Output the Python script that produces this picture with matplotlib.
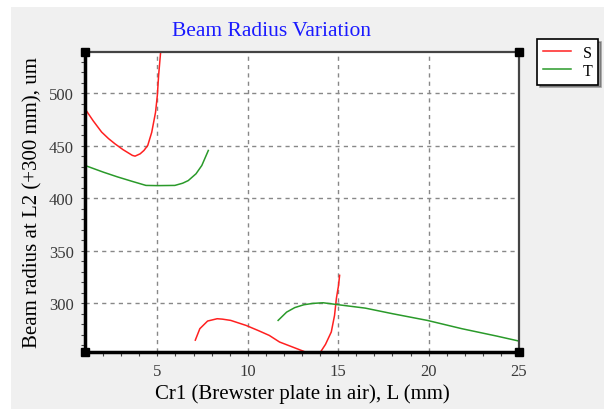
import matplotlib
matplotlib.use('Agg')
import matplotlib.pyplot as plt
import matplotlib.patches as mpatches
import numpy as np

# ── Data ─────────────────────────────────────────────────────────────────────
# S branch 1 (left, rises out of the top)
s1_x = [1.0, 1.45, 1.92, 2.3, 2.66, 3.1, 3.62, 3.77, 4.05, 4.26, 4.47, 4.69, 4.9, 5.0, 5.07, 5.18, 5.22]
s1_y = [485.4, 474.0, 463.2, 457.0, 452.0, 446.5, 441.0, 440.3, 442.5, 445.7, 450.5, 463.0, 482.0, 498.0, 517.0, 539.0, 545.0]

# S branch 2 (bottom middle hump)
s2_x = [7.1, 7.35, 7.78, 8.31, 8.6, 9.06, 9.91, 10.6, 11.19, 11.76, 12.47, 13.1, 13.25]
s2_y = [265.0, 275.9, 283.2, 285.4, 285.0, 283.8, 279.0, 274.0, 269.5, 263.2, 258.5, 254.3, 253.0]

# S branch 3 (steep rise near 15)
s3_x = [14.0, 14.3, 14.62, 14.8, 14.9, 14.97, 15.02, 15.08]
s3_y = [253.0, 261.0, 272.8, 288.6, 304.5, 312.0, 317.0, 326.7]

# T branch 1 (left)
t1_x = [1.0, 2.02, 2.8, 3.62, 4.37, 5.0, 5.97, 6.4, 6.71, 7.14, 7.46, 7.82]
t1_y = [431.4, 425.0, 420.5, 416.2, 412.4, 412.2, 412.4, 414.5, 417.0, 423.5, 431.4, 445.7]

# T branch 2 (right)
t2_x = [11.68, 12.15, 12.6, 13.1, 13.6, 14.17, 15.02, 16.5, 18.0, 19.93, 21.84, 23.76, 25.0]
t2_y = [283.8, 291.7, 296.0, 298.7, 300.0, 300.6, 298.7, 295.5, 290.2, 283.8, 275.9, 268.9, 264.1]

x_ticks = [5, 10, 15, 20, 25]
y_ticks = [300, 350, 400, 450, 500]

# ── Plot ──────────────────────────────────────────────────────────────────────
fig = plt.figure(figsize=(6.04, 4.10), dpi=100, facecolor='white')
fig.patches.append(mpatches.Rectangle((11 / 604, 0), 1, 1 - 8 / 410, transform=fig.transFigure,
                                      facecolor='#f0f0f0', edgecolor='none', zorder=-10))

ax = fig.add_axes([85 / 604, 1 - 353 / 410, (519 - 85) / 604, (353 - 53) / 410])
ax.set_facecolor('white')

red = '#ff2020'
green = '#2a9a2a'
ax.plot(s1_x, s1_y, color=red, lw=1.1, label='S')
ax.plot(s2_x, s2_y, color=red, lw=1.1)
ax.plot(s3_x, s3_y, color=red, lw=1.1)
ax.plot(t1_x, t1_y, color=green, lw=1.1, label='T')
ax.plot(t2_x, t2_y, color=green, lw=1.1)

ax.set_xlim(1, 25)
ax.set_ylim(253.7, 539.5)
ax.set_xticks(x_ticks)
ax.set_yticks(y_ticks)
ax.set_xticks(np.arange(1, 26, 1), minor=True)
ax.set_yticks(np.arange(260, 540, 10), minor=True)
ax.grid(True, which='major', color='#888888', linestyle=(0, (3, 3)), linewidth=1.0)
ax.tick_params(which='both', direction='out', length=3, width=0.8, color='#444444',
               labelsize=12, labelcolor='#3a3a3a', pad=5)
for lab in ax.get_xticklabels() + ax.get_yticklabels():
    lab.set_family('Liberation Serif')

for side in ['left', 'bottom']:
    ax.spines[side].set_linewidth(2.5)
    ax.spines[side].set_color('black')
for side in ['top', 'right']:
    ax.spines[side].set_linewidth(1.6)
    ax.spines[side].set_color('#444444')

# corner squares
for cx, cy in [(0, 0), (1, 0), (0, 1), (1, 1)]:
    ax.plot(cx, cy, marker='s', markersize=6, color='black', transform=ax.transAxes,
            clip_on=False, zorder=10)

fig.text(272 / 604, 1 - 31 / 410, 'Beam Radius Variation', color='#1a1aff', fontsize=15.5,
         family='Liberation Serif', ha='center', va='center')
fig.text(302 / 604, 1 - 394 / 410, 'Cr1 (Brewster plate in air), L (mm)', color='black',
         fontsize=15, family='Liberation Serif', ha='center', va='center')
fig.text(33 / 604, 1 - 203 / 410, 'Beam radius at L2 (+300 mm), um', color='black',
         fontsize=15, family='Liberation Serif', ha='center', va='center', rotation=90)

leg = fig.legend(loc='upper left', bbox_to_anchor=(537 / 604, 1 - 40 / 410),
                 prop={'family': 'Liberation Serif', 'size': 11.5}, frameon=True, fancybox=False,
                 shadow=True, handlelength=1.8, handletextpad=0.7, borderpad=0.35,
                 labelspacing=0.15, borderaxespad=0)
leg.get_frame().set_edgecolor('black')
leg.get_frame().set_linewidth(1.2)

plt.savefig('out.png', dpi=100)
